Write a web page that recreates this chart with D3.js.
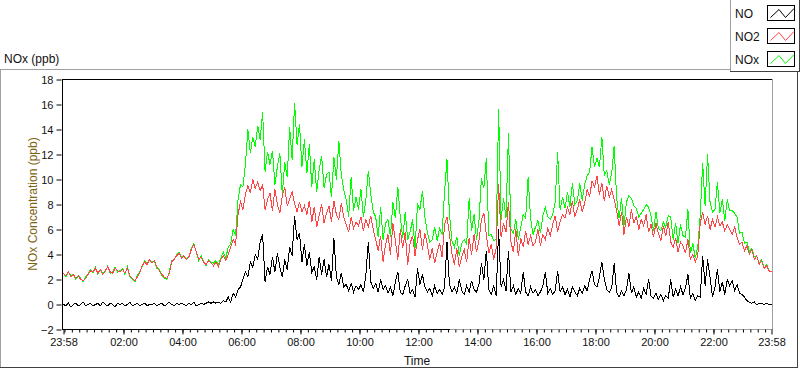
<!DOCTYPE html>
<html>
<head>
<meta charset="utf-8">
<script src="https://cdn.jsdelivr.net/npm/d3@7/dist/d3.min.js"></script>
<style>
  body { margin: 0; background: #fff; }
  svg { display: block; font-family: "Liberation Sans", Arial, sans-serif; }
  .tick text { font-size: 11px; fill: #111; }
  .tick line { stroke: #000; }
  .domain { display: none; }
</style>
</head>
<body>
<svg id="chart" width="800" height="369"></svg>
<script>
// 5-minute readings from 23:58 to 23:58 (289 points), values in ppb
var noValues = [
  0.0,-0.1,0.1,-0.2,0.0,0.1,-0.1,0.0,0.2,-0.1,0.0,0.1,
  -0.1,0.0,0.1,-0.1,0.2,0.0,-0.1,0.1,0.0,-0.2,0.1,0.0,
  0.1,-0.1,0.0,0.2,-0.1,0.0,0.1,-0.1,0.0,0.1,-0.1,0.0,
  0.0,0.1,-0.1,0.0,0.1,-0.1,0.0,0.2,0.0,-0.1,0.1,0.0,
  0.1,0.0,-0.1,0.1,0.0,0.2,-0.1,0.0,0.1,0.0,0.1,0.2,
  0.1,0.2,0.1,0.2,0.1,0.3,0.2,0.6,0.2,0.9,0.6,1.2,
  1.4,2.0,2.6,2.2,3.4,3.0,4.0,3.6,5.0,5.6,1.8,3.0,
  2.4,3.8,2.6,4.1,3.0,2.2,3.6,2.8,4.6,3.9,7.1,5.2,
  5.7,3.4,4.8,3.1,4.2,2.6,3.0,2.0,3.8,2.4,3.6,2.2,
  3.2,1.9,5.3,2.2,1.6,2.5,1.4,1.6,1.1,1.7,1.0,1.5,
  1.2,1.6,1.0,2.4,5.0,1.8,1.3,1.7,1.0,2.0,1.2,1.5,
  0.9,1.4,0.7,1.8,2.6,1.0,0.8,1.5,2.0,0.9,1.2,0.6,
  2.9,1.6,2.4,1.4,1.0,1.3,0.7,1.5,0.9,1.2,0.8,1.4,
  5.0,1.6,1.0,1.4,0.9,2.0,1.1,0.8,1.5,1.0,1.9,1.2,
  1.0,1.6,3.3,2.0,4.3,1.2,0.8,1.5,0.7,6.0,1.4,2.0,
  1.1,4.3,1.0,1.5,0.8,1.3,0.9,2.6,1.0,0.7,1.4,0.9,
  1.2,0.7,1.0,1.5,2.6,0.9,1.3,0.8,1.1,2.7,1.0,1.4,
  0.8,1.2,0.6,1.4,1.0,0.7,1.3,0.9,1.5,1.1,2.0,2.7,
  1.6,1.4,2.2,3.4,2.0,1.2,1.0,1.3,3.3,1.0,0.6,1.1,
  0.7,1.2,2.5,0.9,1.4,0.6,1.0,0.5,1.3,0.8,2.0,0.7,
  0.5,0.9,0.4,0.8,0.3,0.7,0.5,2.0,0.6,1.2,0.7,1.4,
  0.8,1.3,2.4,0.5,0.9,0.3,0.7,0.6,3.9,1.5,3.6,2.2,
  0.6,1.4,2.8,1.0,1.8,0.8,2.0,1.5,1.9,1.1,1.6,0.9,
  0.8,0.6,0.3,0.2,0.1,0.2,0.0,0.1,0.1,0.0,0.1,0.0,
  0.0
];
var no2Values = [
  2.5,2.3,2.6,2.2,2.4,2.1,2.3,2.0,1.9,2.1,2.4,2.7,
  2.6,2.9,2.5,2.8,2.4,2.7,3.0,2.6,2.5,2.9,2.7,2.6,
  2.8,2.5,2.9,2.3,2.1,1.9,2.2,2.5,3.1,3.4,3.2,3.6,
  3.3,3.5,3.0,2.7,2.4,2.2,2.1,2.5,3.4,3.6,3.9,4.1,
  3.7,3.9,3.6,3.8,4.4,4.8,4.2,3.6,3.8,3.4,3.2,3.5,
  3.3,3.1,3.4,3.0,3.6,3.9,3.5,4.0,4.6,5.2,4.8,7.2,
  8.2,7.6,8.8,9.5,8.9,10.0,9.3,9.8,9.1,9.6,7.6,8.4,
  8.9,7.5,9.2,8.0,7.3,8.7,9.4,7.9,8.4,9.0,8.1,7.4,
  8.2,7.4,7.9,7.2,8.3,6.6,7.8,6.2,7.1,8.0,6.5,7.3,
  7.9,6.6,8.3,7.2,6.8,8.1,7.0,6.4,5.8,7.0,6.1,6.6,
  6.3,7.0,5.9,6.8,6.2,7.1,6.0,5.2,4.3,5.5,3.4,4.8,
  5.6,4.0,6.5,5.1,3.6,6.0,4.5,5.8,3.2,4.9,5.5,3.9,
  5.2,6.0,4.4,5.7,4.8,3.6,4.5,3.3,4.2,4.9,3.8,6.4,
  7.0,5.6,4.1,3.2,4.5,3.0,3.8,4.4,3.4,5.3,4.0,5.6,
  4.2,5.1,6.8,7.3,5.6,4.1,4.8,3.6,4.5,9.6,5.4,6.5,
  5.8,8.2,5.0,4.2,6.0,3.9,5.3,4.6,5.9,4.8,5.5,4.7,
  5.0,6.0,4.7,5.6,5.2,6.1,5.5,6.4,7.1,5.8,6.6,7.2,
  6.9,7.8,7.2,8.3,7.0,7.6,8.4,7.4,8.1,9.2,8.6,9.9,
  9.4,10.3,8.8,9.7,8.3,9.5,8.6,9.2,8.4,7.5,6.3,7.4,
  5.6,7.0,6.2,7.6,6.5,7.1,6.0,6.8,6.3,7.2,5.8,6.4,
  5.4,6.5,5.7,5.1,6.3,5.5,6.6,5.0,4.6,5.3,4.2,5.0,
  4.7,4.1,5.2,3.6,4.0,3.4,3.9,6.5,7.4,6.4,7.1,6.0,
  6.8,6.2,7.0,6.3,6.6,5.9,6.4,6.0,5.6,6.2,5.4,4.8,
  5.0,4.3,4.7,4.0,4.4,3.6,3.9,3.2,3.5,2.9,3.1,2.7,
  2.6
];
var noxValues = [
  2.5,2.2,2.6,2.3,2.4,2.0,2.3,2.1,1.8,2.2,2.4,2.8,
  2.5,3.0,2.4,2.8,2.5,2.6,3.1,2.5,2.6,3.0,2.6,2.7,
  2.9,2.4,3.0,2.2,2.0,1.8,2.3,2.6,3.0,3.5,3.3,3.5,
  3.4,3.5,2.9,2.8,2.3,2.1,2.0,2.6,3.5,3.6,4.0,4.2,
  3.8,3.9,3.7,3.8,4.5,4.9,4.2,3.5,3.9,3.4,3.1,3.6,
  3.4,3.3,3.5,3.2,3.7,4.2,3.7,4.6,4.8,6.0,5.5,8.4,
  9.6,9.4,11.2,14.0,12.1,13.4,12.6,14.3,13.2,15.4,10.6,12.2,
  11.2,12.3,9.6,11.0,12.1,8.8,11.4,10.2,14.2,11.6,16.1,12.8,
  14.4,11.0,13.2,10.5,12.8,9.4,11.6,9.0,10.8,11.9,9.3,10.4,
  10.6,8.6,11.8,10.0,13.1,10.4,9.2,8.4,7.0,10.2,7.5,8.6,
  7.6,9.2,7.0,8.4,10.7,8.8,7.4,7.0,5.4,7.8,5.2,6.5,
  6.8,5.4,8.2,6.9,9.4,7.0,5.3,7.4,5.2,5.8,6.8,4.5,
  8.0,7.6,9.1,7.0,5.8,5.0,5.2,6.2,5.1,6.1,5.6,9.0,
  11.6,7.2,5.1,4.6,5.4,3.9,4.9,5.2,4.8,8.5,5.9,7.2,
  5.2,6.7,10.1,9.3,11.7,5.5,5.6,5.1,5.2,15.6,6.8,8.5,
  6.9,13.7,6.0,5.7,6.8,5.2,6.2,7.2,6.9,10.2,6.9,5.6,
  6.2,6.7,5.7,7.1,7.8,7.0,6.8,7.2,8.2,12.2,7.6,8.6,
  7.7,9.0,7.8,9.7,8.0,8.3,9.7,8.3,9.6,10.3,10.6,12.6,
  11.0,11.7,11.0,13.4,10.3,10.7,9.6,10.5,12.7,8.5,6.9,8.5,
  6.3,8.2,8.7,8.5,7.9,7.7,7.0,7.3,7.6,8.0,7.8,7.1,
  5.9,7.4,6.1,5.9,6.6,6.2,7.1,7.0,5.2,6.5,4.9,6.4,
  5.5,5.4,7.6,4.1,4.9,3.7,4.6,7.1,11.3,7.9,12.0,8.2,
  7.4,7.6,9.8,7.3,8.4,6.7,8.4,7.5,7.5,7.3,7.0,5.7,
  5.8,4.9,5.0,4.2,4.5,3.8,3.9,3.3,3.6,2.9,3.2,2.7,
  2.6
];
var seriesNames = ["NO", "NO2", "NOx"];
var seriesColors = ["#000000", "#ff4545", "#00ff00"];
var timeTickLabels = ["23:58","02:00","04:00","06:00","08:00","10:00","12:00","14:00","16:00","18:00","20:00","22:00","23:58"];
var timeTickMinutes = [0,122,242,362,482,602,722,842,962,1082,1202,1322,1440];
var yTicks = [-2,0,2,4,6,8,10,12,14,16,18];
var stepMinutes = 5;

var svg = d3.select("#chart");
var plotLeft = 62, plotRight = 772, plotTop = 79, plotBottom = 329;

var x = d3.scaleLinear().domain([0, 1440]).range([63.5, 771.5]);
var y = d3.scaleLinear().domain([-2, 18]).range([329.5, 79.5]);

// outer panel
svg.append("line").attr("x1", 0).attr("x2", 730).attr("y1", 69.5).attr("y2", 69.5).attr("stroke", "#a0a0a0");
svg.append("line").attr("x1", 0.5).attr("x2", 0.5).attr("y1", 69).attr("y2", 368).attr("stroke", "#a0a0a0");
svg.append("line").attr("x1", 797.5).attr("x2", 797.5).attr("y1", 72).attr("y2", 368).attr("stroke", "#404040");
svg.append("line").attr("x1", 0).attr("x2", 798).attr("y1", 367.5).attr("y2", 367.5).attr("stroke", "#404040");

svg.append("text").attr("x", 4).attr("y", 63).attr("font-size", 12).attr("fill", "#111").text("NOx (ppb)");

// data lines, clipped to the plot area
svg.append("clipPath").attr("id", "plotclip").append("rect")
  .attr("x", plotLeft).attr("y", plotTop).attr("width", plotRight - plotLeft).attr("height", plotBottom - plotTop);
var plot = svg.append("g").attr("clip-path", "url(#plotclip)");
var line = d3.line().x(function(d, i) { return x(i * stepMinutes); }).y(function(d) { return y(d); });
[[noxValues, 2], [no2Values, 1], [noValues, 0]].forEach(function(s) {
  plot.append("path").datum(s[0])
    .attr("d", line)
    .attr("fill", "none")
    .attr("stroke", seriesColors[s[1]])
    .attr("stroke-width", 1)
    .attr("shape-rendering", "crispEdges");
});

// plot frame
svg.append("line").attr("x1", plotLeft).attr("x2", plotRight + 1).attr("y1", plotTop + 0.5).attr("y2", plotTop + 0.5).attr("stroke", "#000");
svg.append("line").attr("x1", plotLeft + 0.5).attr("x2", plotLeft + 0.5).attr("y1", plotTop).attr("y2", plotBottom + 1).attr("stroke", "#000");
svg.append("line").attr("x1", plotRight + 0.5).attr("x2", plotRight + 0.5).attr("y1", plotTop).attr("y2", plotBottom + 1).attr("stroke", "#a0a0a0");
svg.append("line").attr("x1", plotLeft).attr("x2", 450).attr("y1", plotBottom + 0.5).attr("y2", plotBottom + 0.5).attr("stroke", "#000");
svg.append("line").attr("x1", 450).attr("x2", plotRight + 1).attr("y1", plotBottom + 0.5).attr("y2", plotBottom + 0.5).attr("stroke", "#a0a0a0");

// y axis
svg.append("g").attr("transform", "translate(" + (plotLeft - 0.5) + ",0)")
  .call(d3.axisLeft(y).tickValues(yTicks).tickSize(5).tickPadding(3).tickFormat(d3.format("d")));

// x axis: minor ticks every 15 minutes, majors with labels
var minorTicks = d3.range(2, 1440, 15);
svg.append("g").attr("transform", "translate(0," + (plotBottom + 0.5) + ")")
  .call(d3.axisBottom(x).tickValues(minorTicks).tickSize(3).tickFormat(""));
svg.append("g").attr("transform", "translate(0," + (plotBottom + 0.5) + ")")
  .call(d3.axisBottom(x).tickValues(timeTickMinutes).tickSize(5).tickPadding(4)
    .tickFormat(function(d, i) { return timeTickLabels[i]; }));

svg.append("text").attr("x", 417).attr("y", 365).attr("text-anchor", "middle")
  .attr("font-size", 12).attr("fill", "#111").text("Time");
svg.append("text").attr("transform", "translate(37,204) rotate(-90)").attr("text-anchor", "middle")
  .attr("font-size", 12).attr("fill", "#7d6410").text("NOx Concentration (ppb)");

// legend
var lg = svg.append("g");
lg.append("rect").attr("x", 730.5).attr("y", -1).attr("width", 68).attr("height", 72.5).attr("fill", "#fff").attr("stroke", "none");
lg.append("line").attr("x1", 730.5).attr("x2", 730.5).attr("y1", 0).attr("y2", 72).attr("stroke", "#a0a0a0");
lg.append("line").attr("x1", 730).attr("x2", 800).attr("y1", 71.5).attr("y2", 71.5).attr("stroke", "#404040");
lg.append("line").attr("x1", 799.5).attr("x2", 799.5).attr("y1", 0).attr("y2", 72).attr("stroke", "#404040");
seriesNames.forEach(function(name, i) {
  var y0 = 5.5 + i * 23;
  lg.append("text").attr("x", 735).attr("y", y0 + 12).attr("font-size", 12).attr("fill", "#111").text(name);
  lg.append("rect").attr("x", 767.5).attr("y", y0).attr("width", 27).attr("height", 15)
    .attr("fill", "#fff").attr("stroke", "#000");
  lg.append("polyline")
    .attr("points", [[770.5, y0 + 12], [779, y0 + 4], [785.5, y0 + 12], [794, y0 + 3]].map(function(p) { return p.join(","); }).join(" "))
    .attr("fill", "none").attr("stroke", seriesColors[i]).attr("stroke-width", 1);
});
</script>
</body>
</html>
